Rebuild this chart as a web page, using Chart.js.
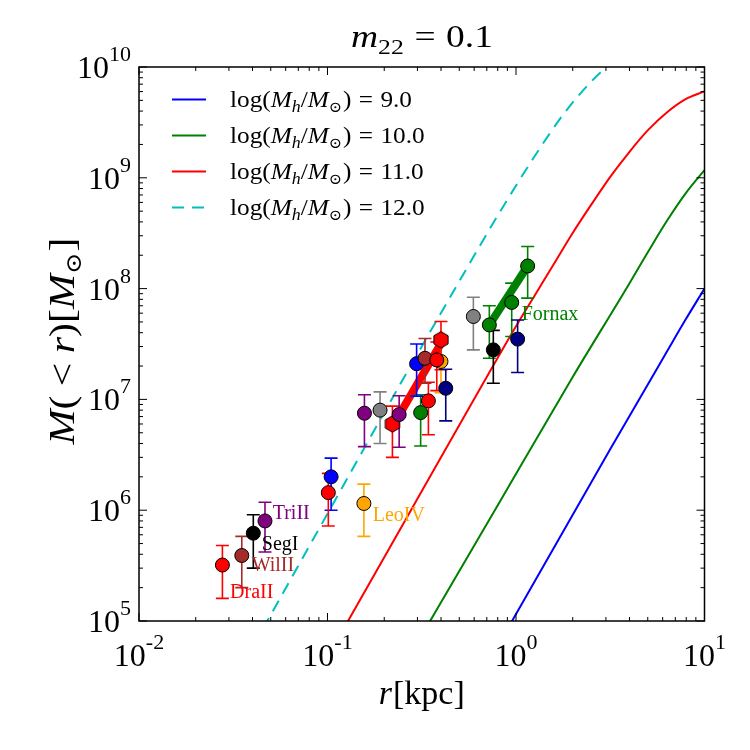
<!DOCTYPE html>
<html><head><meta charset="utf-8">
<script src="https://cdn.jsdelivr.net/npm/chart.js@4.4.1/dist/chart.umd.min.js"></script>
<style>html,body{margin:0;padding:0;background:#fff}canvas{display:block}</style>
</head><body>
<canvas id="c" width="750" height="750" style="width:750px;height:750px"></canvas>
<script>
// ---------------- data ----------------
const xTicks = [0.01, 0.1, 1, 10];
const xTickExp = ['-2', '-1', '0', '1'];
const yTicks = [1e5, 1e6, 1e7, 1e8, 1e9, 1e10];
const yTickExp = ['5', '6', '7', '8', '9', '10'];

const curveNames = ['9.0', '10.0', '11.0', '12.0'];
const r9  = [0.631, 0.953, 3.16, 6.31, 7.94, 10];
const m9  = [2.8e4, 1.0e5, 3.55e6, 2.69e7, 5.25e7, 1.0e8];
const r10 = [0.251, 0.35, 0.822, 1.995, 3.981, 5.012, 6.310, 7.943, 10];
const m10 = [3.8e4, 1.0e5, 1.2e6, 1.585e7, 1.10e8, 2.14e8, 4.07e8, 7.24e8, 1.175e9];
const r11 = [0.1, 0.1285, 0.316, 0.631, 1.0, 1.259, 1.585, 1.995, 2.512, 3.162, 3.981, 5.012, 6.310, 7.943, 10];
const m11 = [4.68e4, 1.0e5, 1.48e6, 1.17e7, 4.57e7, 8.71e7, 1.66e8, 3.16e8, 5.75e8, 1.02e9, 1.70e9, 2.69e9, 3.89e9, 5.13e9, 6.03e9];
const r12 = [0.0316, 0.0479, 0.1, 0.251, 0.501, 0.794, 1.26, 1.78, 2.51, 3.16, 3.98];
const m12 = [2.9e4, 1.0e5, 9.3e5, 1.51e7, 1.17e8, 4.47e8, 1.58e9, 3.72e9, 7.41e9, 1.07e10, 1.48e10];

// observed dwarfs: radius [kpc], mass, lower, upper, colour, marker
const ptR  = [0.0277, 0.0351, 0.0404, 0.0466, 0.1045, 0.101, 0.156, 0.157, 0.190, 0.221, 0.240, 0.312, 0.343, 0.297, 0.329, 0.400, 0.380, 0.400, 0.424, 0.594, 0.722, 0.758, 0.949, 1.02, 1.153];
const ptM  = [3.2e5, 3.9e5, 6.2e5, 8.0e5, 2.0e6, 1.44e6, 1.15e6, 7.5e6, 8.0e6, 6.0e6, 7.3e6, 7.6e6, 9.7e6, 2.1e7, 2.35e7, 2.2e7, 2.27e7, 3.45e7, 1.26e7, 5.6e7, 4.7e7, 2.8e7, 7.5e7, 3.5e7, 1.6e8];
const ptLo = [1.6e5, 2.0e5, 3.0e5, 4.2e5, 1.0e6, 7.2e5, 5.8e5, 3.75e6, 4.0e6, 3.0e6, 3.7e6, 3.8e6, 4.8e6, 1.07e7, 1.4e7, 1.15e7, 1.2e7, 1.85e7, 6.4e6, 2.8e7, 2.35e7, 1.4e7, 3.7e7, 1.75e7, 8.2e7];
const ptHi = [4.8e5, 5.8e5, 9.1e5, 1.18e6, 2.95e6, 2.15e6, 1.72e6, 1.1e7, 1.17e7, 8.7e6, 1.08e7, 1.1e7, 1.43e7, 3.16e7, 3.55e7, 3.25e7, 3.3e7, 5.05e7, 1.87e7, 8.35e7, 7.0e7, 4.2e7, 1.12e8, 5.2e7, 2.4e8];
const ptCol = ['red','brown','black','purple','blue','red','orange','purple','gray','red','purple','green','red','blue','brown','orange','red','red','navy','gray','green','black','green','navy','green'];
const ptShape = ['o','o','o','o','o','o','o','o','o','h','o','o','o','o','o','o','o','h','o','o','o','o','o','o','o'];

// slope segments (thick lines)
const redSegR = [0.243, 0.404];
const redSegM = [7.5e6, 3.3e7];
const grnSegR = [0.722, 1.153];
const grnSegM = [4.7e7, 1.6e8];

// name labels
const labText = ['DraII', 'WilII', 'SegI', 'TriII', 'LeoIV', 'Fornax'];
const labR    = [0.0304, 0.0396, 0.0448, 0.0512, 0.1738, 1.072];
const labM    = [1.79e5, 3.13e5, 4.85e5, 9.25e5, 8.87e5, 5.78e7];
const labCol  = ['red', 'brown', 'black', 'purple', 'orange', 'green'];

// ---------------- styling ----------------
const COL = {red:'#FF0000', brown:'#A52A2A', black:'#000000', purple:'#800080', blue:'#0000FF',
             orange:'#FFA500', gray:'#808080', green:'#008000', navy:'#000080', cyan:'#00BFBF'};
const SERIF = '"Liberation Serif","DejaVu Serif","DejaVu Sans",serif';

function makeHex(color){
  const c = document.createElement('canvas');
  c.width = 20; c.height = 20;
  const g = c.getContext('2d');
  const R = 8.2;
  g.beginPath();
  for (let k = 0; k < 6; k++){
    const a = -Math.PI/2 + k*Math.PI/3;
    const px = 10 + R*Math.cos(a), py = 10 + R*Math.sin(a);
    if (k) g.lineTo(px, py); else g.moveTo(px, py);
  }
  g.closePath(); g.fillStyle = color; g.fill();
  g.lineWidth = 1; g.strokeStyle = '#000'; g.stroke();
  return c;
}
const hexImg = makeHex(COL.red);

const xy = (rs, ms) => rs.map((r, i) => ({x: r, y: ms[i]}));

function fnt(p){ return (p.it ? 'italic ' : '') + p.s + 'px ' + SERIF; }
function measure(ctx, parts){
  let w = 0;
  for (const p of parts){ ctx.font = fnt(p); w += ctx.measureText(p.t).width + (p.g || 0); }
  return w;
}
function drawRich(ctx, parts, x, y, align, scale, color){
  const w = measure(ctx, parts) * scale;
  const x0 = align === 'center' ? x - w/2 : (align === 'right' ? x - w : x);
  ctx.save();
  ctx.translate(x0, y); ctx.scale(scale, 1);
  ctx.fillStyle = color; ctx.textBaseline = 'alphabetic'; ctx.textAlign = 'left';
  let cx = 0;
  for (const p of parts){
    ctx.font = fnt(p);
    ctx.fillText(p.t, cx, p.dy || 0);
    cx += ctx.measureText(p.t).width + (p.g || 0);
  }
  ctx.restore();
  return w;
}

function legendParts(v){
  return [{t:'log(', s:24}, {t:'M', it:1, s:24}, {t:'h', it:1, s:17, dy:5}, {t:'/', s:24},
          {t:'M', it:1, s:24}, {t:'\u2299', s:15, dy:5, g:1}, {t:')', s:24, g:7}, {t:'=', s:24, g:7}, {t:v, s:24}];
}

const decor = {
  id: 'decor',
  beforeDatasetDraw(chart, args){
    if (args.meta.label !== 'points') return;
    const ctx = chart.ctx, xs = chart.scales.x, ys = chart.scales.y;
    ctx.save();
    ctx.lineWidth = 1.6;
    for (let i = 0; i < ptR.length; i++){
      const px = xs.getPixelForValue(ptR[i]);
      const yl = ys.getPixelForValue(ptLo[i]);
      const yh = ys.getPixelForValue(ptHi[i]);
      ctx.strokeStyle = COL[ptCol[i]];
      ctx.beginPath();
      ctx.moveTo(px, yl); ctx.lineTo(px, yh);
      ctx.moveTo(px - 6.5, yl); ctx.lineTo(px + 6.5, yl);
      ctx.moveTo(px - 6.5, yh); ctx.lineTo(px + 6.5, yh);
      ctx.stroke();
    }
    ctx.restore();
  },
  afterDraw(chart){
    const ctx = chart.ctx, a = chart.chartArea, xs = chart.scales.x, ys = chart.scales.y;
    ctx.save();
    // frame
    ctx.strokeStyle = '#000'; ctx.lineWidth = 1.5;
    ctx.strokeRect(a.left, a.top, a.right - a.left, a.bottom - a.top);
    // ticks (inward, all four sides)
    ctx.lineWidth = 1;
    ctx.beginPath();
    const minor = [2,3,4,5,6,7,8,9];
    for (let d = -2; d <= 1; d++){
      const base = Math.pow(10, d);
      const px = xs.getPixelForValue(base);
      ctx.moveTo(px, a.bottom); ctx.lineTo(px, a.bottom - 8);
      ctx.moveTo(px, a.top); ctx.lineTo(px, a.top + 8);
      if (d < 1) for (const m of minor){
        const q = xs.getPixelForValue(m * base);
        ctx.moveTo(q, a.bottom); ctx.lineTo(q, a.bottom - 4);
        ctx.moveTo(q, a.top); ctx.lineTo(q, a.top + 4);
      }
    }
    for (let d = 5; d <= 10; d++){
      const base = Math.pow(10, d);
      const py = ys.getPixelForValue(base);
      ctx.moveTo(a.left, py); ctx.lineTo(a.left + 8, py);
      ctx.moveTo(a.right, py); ctx.lineTo(a.right - 8, py);
      if (d < 10) for (const m of minor){
        const q = ys.getPixelForValue(m * base);
        ctx.moveTo(a.left, q); ctx.lineTo(a.left + 4, q);
        ctx.moveTo(a.right, q); ctx.lineTo(a.right - 4, q);
      }
    }
    ctx.stroke();
    // tick labels
    xTicks.forEach((v, i) => {
      drawRich(ctx, [{t:'10', s:32}, {t:xTickExp[i], s:22, dy:-17}], xs.getPixelForValue(v), 666, 'center', 1, '#000');
    });
    yTicks.forEach((v, i) => {
      const py = ys.getPixelForValue(v);
      drawRich(ctx, [{t:'10', s:32}, {t:yTickExp[i], s:22, dy:-17}], a.left - 8, py + 11, 'right', 1, '#000');
    });
    // axis titles
    drawRich(ctx, [{t:'r', it:1, s:34, g:1}, {t:'[kpc]', s:34}], (a.left + a.right)/2, 704, 'center', 1, '#000');
    const yl = [{t:'M', it:1, s:36}, {t:'(', s:36, g:8}, {t:'<', s:36, g:8}, {t:'r', it:1, s:36}, {t:')', s:36},
                {t:'[', s:36}, {t:'M', it:1, s:36}, {t:'\u2299', s:22, dy:7, g:1}, {t:']', s:36}];
    ctx.save();
    ctx.translate(74, 341); ctx.rotate(-Math.PI/2);
    drawRich(ctx, yl, 0, 0, 'center', 207 / measure(ctx, yl), '#000');
    ctx.restore();
    // title
    const tp = [{t:'m', it:1, s:32}, {t:'22', s:22, dy:7, g:9}, {t:'=', s:32, g:9}, {t:'0.1', s:32}];
    drawRich(ctx, tp, 351, 47, 'left', 142 / measure(ctx, tp), '#000');
    // legend
    const lcol = [COL.blue, COL.green, COL.red, COL.cyan];
    const ly = [99.5, 135.5, 171.5, 207.5];
    const lsc = 182 / measure(ctx, legendParts(curveNames[0]));
    curveNames.forEach((v, i) => {
      ctx.save();
      ctx.strokeStyle = lcol[i]; ctx.lineWidth = 2;
      if (i === 3) ctx.setLineDash([12, 8]);
      ctx.beginPath(); ctx.moveTo(172, ly[i]); ctx.lineTo(206, ly[i]); ctx.stroke();
      ctx.restore();
      drawRich(ctx, legendParts(v), 230, ly[i] + 7, 'left', lsc, '#000');
    });
    // galaxy names
    ctx.textBaseline = 'middle'; ctx.textAlign = 'left';
    ctx.font = '20px ' + SERIF;
    labText.forEach((t, i) => {
      ctx.fillStyle = COL[labCol[i]];
      ctx.fillText(t, xs.getPixelForValue(labR[i]), ys.getPixelForValue(labM[i]));
    });
    ctx.restore();
  }
};

const curveStyle = (col, dash) => ({showLine:true, borderColor:col, backgroundColor:col, borderWidth:2,
  pointRadius:0, pointHoverRadius:0, cubicInterpolationMode:'monotone', borderDash:dash || [], order:3, fill:false});

const datasets = [
  Object.assign({label:'c9',  data: xy(r9, m9)},  curveStyle(COL.blue)),
  Object.assign({label:'c10', data: xy(r10, m10)}, curveStyle(COL.green)),
  Object.assign({label:'c11', data: xy(r11, m11)}, curveStyle(COL.red)),
  Object.assign({label:'c12', data: xy(r12, m12)}, curveStyle(COL.cyan, [12, 8])),
  {label:'segR', data: xy(redSegR, redSegM), showLine:true, borderColor:COL.red, borderWidth:8, pointRadius:0, order:2, borderCapStyle:'butt'},
  {label:'segG', data: xy(grnSegR, grnSegM), showLine:true, borderColor:COL.green, borderWidth:8, pointRadius:0, order:2, borderCapStyle:'butt'},
  {label:'points', data: xy(ptR, ptM), showLine:false, order:0,
   pointRadius:7, pointHoverRadius:7,
   pointBackgroundColor: ptCol.map(c => COL[c]), pointBorderColor:'#000', pointBorderWidth:1,
   pointStyle: ptShape.map(s => s === 'h' ? hexImg : 'circle')}
];

new Chart(document.getElementById('c'), {
  type: 'scatter',
  data: {datasets},
  options: {
    responsive: false, devicePixelRatio: 1, animation: false, events: [],
    layout: {padding: {top: 67, right: 45.5, bottom: 0, left: 0}},
    plugins: {legend: {display: false}, tooltip: {enabled: false}, title: {display: false}},
    scales: {
      x: {type: 'logarithmic', min: 0.01, max: 10,
          grid: {display: false}, border: {display: false}, ticks: {display: false},
          afterFit(s){ s.height = 129; }},
      y: {type: 'logarithmic', min: 1e5, max: 1e10,
          grid: {display: false}, border: {display: false}, ticks: {display: false},
          afterFit(s){ s.width = 139; }}
    }
  },
  plugins: [decor]
});
</script>
</body></html>
